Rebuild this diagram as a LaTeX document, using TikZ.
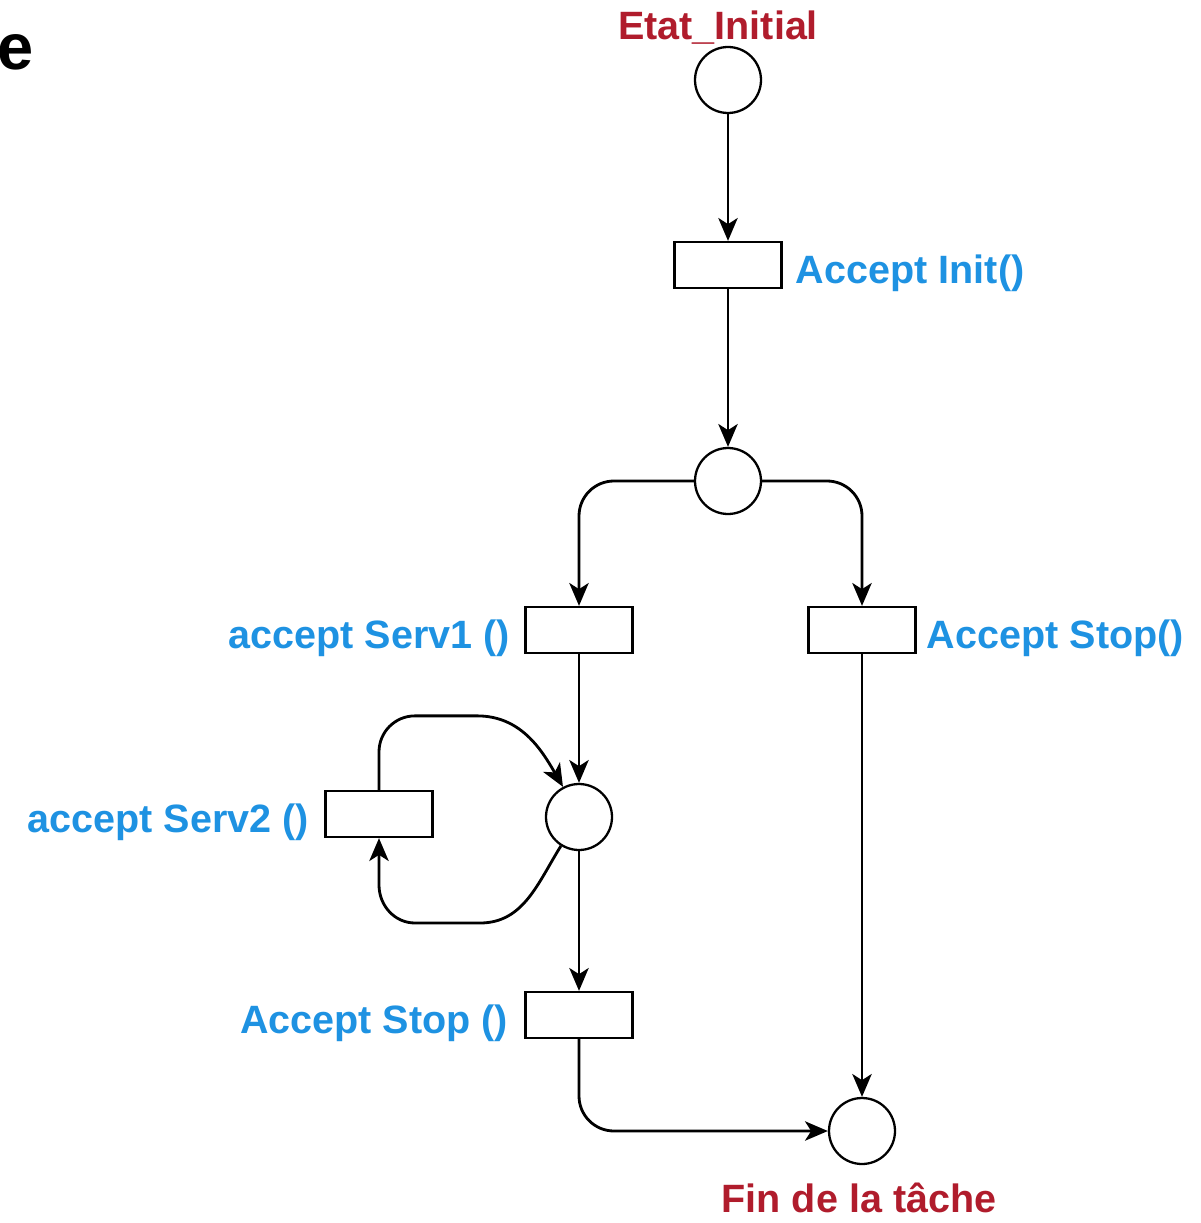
\documentclass[tikz,border=0pt]{standalone}
\usepackage{fontspec}
\setmainfont{Liberation Sans}
\usepackage{xcolor}
\usetikzlibrary{arrows.meta,positioning,calc}
\definecolor{actblue}{RGB}{30,146,226}
\definecolor{stred}{RGB}{176,28,44}

\begin{document}
\begin{tikzpicture}[x=0.02cm,y=0.02cm,>={Stealth[length=13pt,width=11pt,inset=3.5pt]},
  place/.style={circle,draw,line width=1.3pt,minimum size=1.32cm,inner sep=0pt},
  trans/.style={rectangle,draw,line width=1.3pt,minimum width=2.14cm,minimum height=0.92cm,inner sep=0pt},
  arc/.style={->,line width=1.6pt},
  actlbl/.style={font=\bfseries\fontsize{22.5}{26}\selectfont,text=actblue,inner sep=0pt,yshift=-0.17cm},
  stlbl/.style={font=\bfseries\fontsize{22.5}{26}\selectfont,text=stred,inner sep=0pt}]
  \useasboundingbox (0,0) rectangle (1200,-1223);
  \node[font=\bfseries\fontsize{37}{40}\selectfont,inner sep=0pt,anchor=base east] (frag) at (34,-70) {e};
  % places
  \node[place] (init) at (728,-80) {};
  \node[place] (p1) at (728,-481) {};
  \node[place] (p2) at (579,-817) {};
  \node[place] (fin) at (862,-1131) {};
  \node[stlbl] (initlbl) at (718,-28) {Etat\_Initial};
  \node[stlbl] (finlbl) at (859,-1198) {Fin de la tâche};
  % transitions
  \node[trans] (tInit) at (728,-265) {};
  \node[trans] (tServ1) at (579,-630) {};
  \node[trans] (tStopR) at (862,-630) {};
  \node[trans] (tServ2) at (379,-814) {};
  \node[trans] (tStopL) at (579,-1015) {};
  \node[actlbl,right=0.26cm of tInit] (lInit) {Accept Init()};
  \node[actlbl,left=0.28cm of tServ1] (lServ1) {accept Serv1 ()};
  \node[actlbl,right=0.2cm of tStopR] (lStopR) {Accept Stop()};
  \node[actlbl,left=0.3cm of tServ2] (lServ2) {accept Serv2 ()};
  \node[actlbl,left=0.32cm of tStopL] (lStopL) {Accept Stop ()};
  % arcs
  \draw[arc] (init) -- (tInit);
  \draw[arc] (tInit) -- (p1);
  \draw[arc,rounded corners=0.7cm] (p1.west) -| (tServ1.north);
  \draw[arc,rounded corners=0.7cm] (p1.east) -| (tStopR.north);
  \draw[arc] (tServ1) -- (p2);
  \draw[arc] (p2) -- (tStopL);
  \draw[arc] (tStopR) -- (fin);
  \draw[arc,rounded corners=0.7cm] (tStopL.south) |- (fin.west);
  \draw[arc] (tServ2.north) -- ++(0,38) to[out=90,in=180] ++(36,36) -- ++(62,0) to[out=0,in=120] (p2.118);
  \draw[arc] (p2.238) to[out=238,in=0] (480,-923) -- (415,-923) to[out=180,in=270] (379,-885) -- (tServ2.south);
\end{tikzpicture}
\end{document}
